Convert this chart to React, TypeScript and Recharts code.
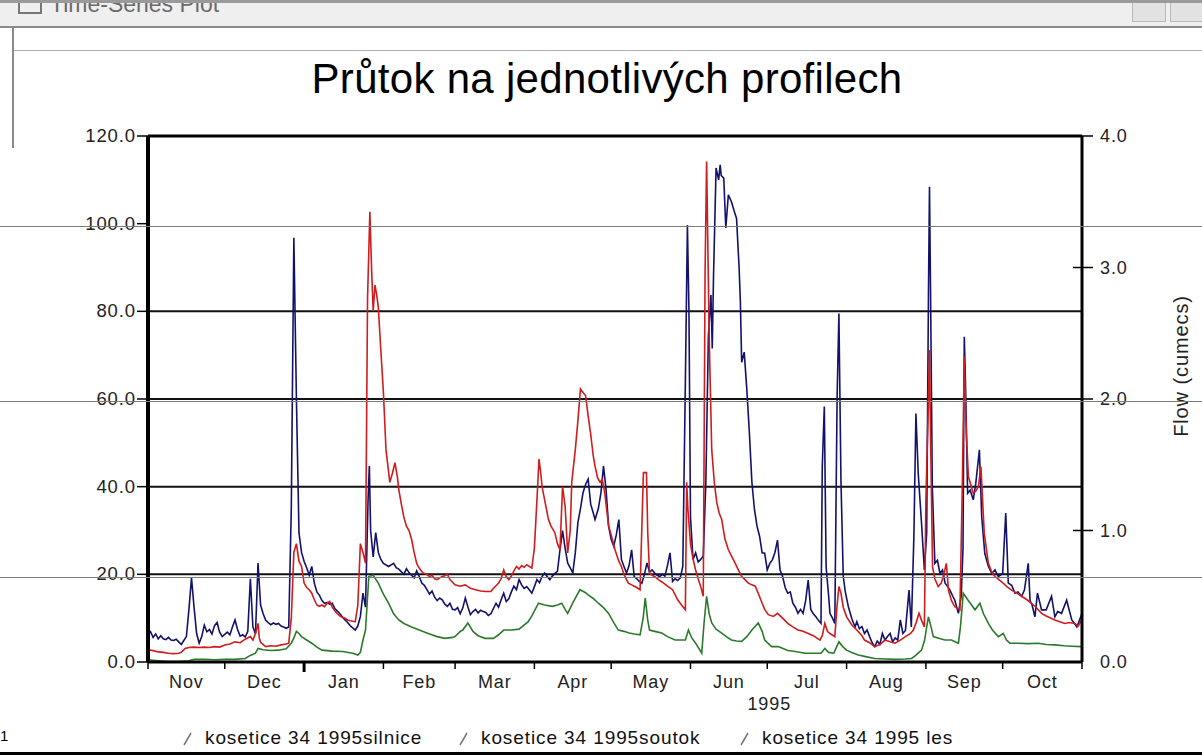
import React from "react";
import { LineChart, Line, XAxis, YAxis, ReferenceLine } from "recharts";

// days since 1 Nov 1994, flow
const silnice: [number, number][] = [
  [0, 6.2], [1, 6.9], [2, 5.6], [3, 6.4], [4, 5.3], [5, 6.0], [6, 5.3], [7, 5.1], [8, 5.6], [9, 5.0], [10, 4.9], [11, 5.2], [12, 4.6], [13, 4.0], [14, 4.9], [15, 5.8], [16, 12], [17, 19.2], [18, 12.5], [19, 6.5], [20, 4.3], [21, 5.8], [22, 8.4], [23, 6.9], [24, 7.4], [25, 6.4], [26, 8.3], [27, 9.0], [28, 6.8], [29, 5.8], [30, 6.3], [31, 6.8], [32, 6.2], [33, 8.0], [34, 9.6], [35, 7.4], [36, 5.9], [37, 6.2], [38, 5.7], [39, 7], [40, 19], [41, 8], [42, 6.4], [43, 22.6], [44, 13], [45, 11], [46, 9.5], [47, 9], [48, 8.5], [49, 8.9], [50, 8.6], [51, 8.8], [52, 8.2], [53, 8.0], [54, 7.7], [55, 8], [56, 35], [57, 96.8], [58, 60], [59, 29.5], [60, 25], [61, 23], [62, 21.5], [63, 19.8], [64, 21.8], [65, 18], [66, 16], [67, 15.2], [68, 14], [69, 13.4], [70, 13.6], [71, 13.2], [72, 13.4], [73, 12.2], [74, 11.6], [75, 11], [76, 10.2], [77, 9.6], [78, 9], [79, 8.3], [80, 7.8], [81, 7.3], [82, 8.2], [83, 10.4], [84, 15.7], [85, 12.5], [86, 37], [86.5, 44.7], [87, 30], [88, 24], [89, 29.5], [90, 25], [91, 23.4], [92, 22.5], [94, 21.8], [96, 22.5], [97, 21.5], [98, 21.2], [100, 20], [101, 21.3], [102, 20.4], [104, 19.2], [105, 20.8], [106, 19.5], [107, 18], [108, 17.5], [109, 16.5], [110, 15.5], [111, 16.2], [112, 14.8], [113, 14], [114, 14.6], [115, 14.2], [116, 13.2], [117, 12.7], [118, 13.4], [119, 12], [120, 11.9], [121, 12.4], [122, 11], [123, 12.3], [124, 14.6], [125, 12.6], [126, 10.8], [127, 11.5], [128, 12], [129, 11.2], [130, 11.8], [131, 11.5], [132, 11.3], [133, 10.6], [134, 11], [135, 12.2], [136, 13.4], [137, 12.5], [138, 14.2], [139, 15.7], [140, 13.8], [141, 14.4], [142, 16], [143, 17.3], [144, 16.5], [145, 18.8], [146, 17.6], [147, 16.8], [148, 17.2], [149, 16.5], [150, 15.7], [151, 17.2], [152, 18.8], [153, 18.1], [154, 19.5], [155, 20.3], [156, 19.5], [157, 18.8], [158, 19.6], [159, 20.2], [160, 20.7], [161, 25.6], [162, 30], [163, 26], [164, 22.6], [165, 21.5], [166, 20.3], [167, 25], [168, 31.8], [169, 35], [170, 38.6], [171, 40.5], [172, 41.7], [173, 36], [174, 34], [174.7, 32.5], [176, 35], [177, 38.6], [178, 44.7], [179, 39.4], [180, 31], [181, 28], [182, 26.4], [183, 29], [184, 32.5], [185, 23.4], [186, 21.8], [187, 20.3], [188, 22], [189, 25.6], [190, 19.5], [191, 19], [192, 18.4], [193, 18], [194, 20], [195, 22.6], [196, 20.5], [197, 21], [198, 20.3], [199, 19.8], [200, 19.5], [201, 20], [202, 19.6], [203, 22], [204, 24.9], [205, 18.4], [206, 19], [207, 18.6], [208, 19.2], [209, 21.8], [210, 64], [210.8, 99.7], [211.4, 80], [212, 33], [213, 23.4], [214, 24.9], [215, 22.8], [216, 23.4], [217, 24.2], [218, 41], [219, 74.5], [220, 83.7], [220.5, 71.5], [221, 88], [222, 112.7], [223, 110], [223.6, 113.4], [224, 111], [225, 110.4], [225.8, 99], [226.8, 106.6], [228, 105], [229, 103], [230, 101.2], [231, 90], [231.5, 82], [232, 68.4], [233, 70.7], [234, 62.3], [235, 52.4], [236, 41], [237, 34.8], [238, 31], [239, 28.7], [240, 24.9], [241, 24.8], [242, 21], [243, 22.5], [244, 23.3], [245, 25], [246, 27.8], [247, 21], [248, 19.5], [249, 17], [250, 15.7], [251, 16], [252, 13.4], [253, 12.5], [254, 11.1], [255, 12], [256, 11.1], [257, 14], [258, 18.7], [259, 12], [260, 11], [261, 10.3], [262, 9.5], [263, 8.8], [263.5, 44.6], [264.3, 58.3], [265, 21.7], [266, 15], [266.5, 11.1], [267.5, 10], [268.4, 8.8], [269.3, 60.5], [270, 79.5], [270.8, 41.5], [271.7, 19.5], [272.5, 16], [273.7, 12.6], [275, 10], [276.3, 8], [277, 9.2], [278, 7.6], [279, 8.1], [280, 6.5], [281, 7.3], [282, 5.8], [283, 4.4], [284, 3.5], [285, 4.8], [286, 4], [287, 6.5], [288, 5], [289, 5.8], [290, 6.5], [291, 4.6], [292, 5.5], [293, 5], [294, 9.6], [295, 6.5], [296, 7.2], [297.4, 16.4], [298.3, 8], [299.3, 28.6], [300.1, 56.7], [301, 43], [302.3, 31.6], [303.4, 21], [304.3, 29.4], [305, 84], [305.4, 108.4], [305.8, 85.6], [306.5, 40], [307.5, 22.5], [308.5, 23.2], [309.5, 20.2], [310.5, 21], [311.5, 18], [312.5, 17.2], [313.4, 16.4], [314.5, 15], [315.3, 14.1], [316.7, 11.1], [317.8, 15], [318.5, 26], [319, 74.2], [319.5, 62.8], [320.3, 38.5], [321.3, 39.2], [322.5, 37], [323.5, 40.8], [324.9, 48.4], [325.8, 33.2], [327, 24.8], [328.3, 22], [329.7, 20.2], [331, 21], [332.3, 19.5], [334, 20.2], [335.2, 34], [336.2, 18], [337.5, 17.5], [338.8, 15.7], [340, 16], [341.4, 15], [342.5, 16.4], [344, 22.5], [344.7, 14], [345.5, 13], [346.6, 10.3], [347.6, 15.7], [349.2, 11.9], [351, 11.9], [353.1, 15], [354.4, 10.3], [355.5, 11.5], [357, 11.1], [359, 14.1], [361, 9.6], [363, 8], [364, 9.5], [365, 11.1],
];

const soutok: [number, number][] = [
  [0, 2.8], [2, 2.6], [4, 2.3], [6, 2.2], [8, 2.0], [10, 1.9], [12, 2.0], [13, 2.2], [14.5, 3.1], [16, 3.3], [18, 3.4], [20, 3.3], [22, 3.4], [24, 3.3], [26, 3.5], [28, 3.4], [30, 3.9], [32, 4.1], [34, 4.6], [36, 4.4], [38, 5.2], [40, 5.8], [41, 5], [42, 6.5], [43, 8.8], [43.5, 5.5], [44, 4.5], [46, 3.5], [48, 3.7], [50, 3.6], [52, 3.9], [54, 4.1], [55, 4.3], [56, 10], [57, 25], [58, 27], [59, 23], [60, 21.8], [61, 18], [62, 17], [63, 16.5], [64, 15.7], [65, 14.2], [66, 13], [67, 12.7], [68, 13], [69, 12.6], [70, 13.4], [71, 13.8], [72, 12.5], [73, 11.7], [74, 11], [75, 10.5], [76, 10.2], [77, 10], [78, 9.6], [79, 9.4], [80, 9.3], [81, 9.2], [82, 13], [83, 27], [84, 25], [85, 22.6], [85.8, 83], [86.7, 102.7], [87.3, 91], [88, 80], [88.7, 86], [89.3, 84], [90, 81], [91, 71], [92, 61.5], [93, 48.5], [94.5, 41], [95.5, 43], [96.5, 45.5], [97.5, 42], [98, 39.4], [99, 36], [100, 33], [101, 31], [102, 30], [103, 28], [104, 25], [105, 22.5], [105.6, 21.8], [106.5, 21], [107.5, 20.3], [109, 20], [110, 19.5], [111, 19.8], [112, 19], [113, 18.8], [114, 19.2], [115, 19.5], [116, 19.7], [117, 20], [118, 18.8], [119, 18.2], [120, 17.6], [122, 17.3], [124, 17.6], [126, 16.8], [128, 16.5], [130, 16.2], [132, 16.1], [134, 16.1], [135, 16.8], [136, 17.4], [137, 18], [138, 19], [139, 21], [140, 19.5], [141, 18.8], [142, 19.6], [143, 20.8], [144, 21.8], [145, 21.2], [146, 22], [147, 21.6], [148, 22.2], [149, 21.8], [150, 21.4], [151, 26], [152, 37], [152.8, 46.3], [153.5, 43], [154, 40], [155, 37], [156, 34], [156.5, 32.5], [157.5, 31], [159, 29.5], [160, 27], [161, 25.6], [162, 40], [163, 35.6], [164, 24.9], [165, 30], [165.6, 41], [167, 48.5], [168, 55], [169, 62.3], [170, 61.5], [171, 60.8], [172, 56.2], [173, 52], [174, 47], [174.7, 44.7], [175.7, 42], [176.7, 41], [177.5, 41.7], [178.5, 38.6], [180, 31], [181, 29], [182.5, 25.6], [184, 23], [185, 21.8], [186, 20], [187.7, 18], [189, 17.6], [190, 17.3], [191, 17], [192.3, 16.5], [193.6, 43.2], [194.8, 43.2], [195.3, 29.5], [196, 20.3], [197, 19.8], [198, 19.5], [199.5, 18.8], [201, 18.2], [203, 17.3], [205, 16.5], [207, 14.2], [208.5, 13], [210, 11.9], [210.5, 41], [211, 34.8], [212, 27], [213, 23.5], [214, 21], [215, 19], [216, 17.2], [217, 15], [217.7, 89], [218.3, 114.2], [218.8, 94.3], [219.3, 74.5], [220.3, 48.5], [221.3, 41], [222.3, 36.3], [223.2, 34], [224.2, 32.5], [225.5, 28], [226.8, 25.6], [228, 24.2], [229.4, 22.6], [230.7, 21], [232, 19.5], [233.3, 18.8], [234.6, 18], [236, 17.6], [237.3, 17.3], [238.6, 15.5], [240, 13.4], [241, 12], [242.4, 10.8], [244.4, 10.4], [246, 11.1], [248, 10], [250, 8.8], [252, 8], [254, 7.3], [256, 7], [258, 6.5], [260, 6], [262.6, 5], [263.5, 6], [264.5, 8.8], [265.5, 7], [266.5, 6.5], [268.4, 5.8], [269.3, 13], [270, 17.2], [270.8, 15.7], [271.7, 12.5], [273, 10.3], [275, 8.5], [277, 7.3], [279, 6], [280, 5], [282, 4.4], [284, 3.5], [286, 4], [288, 5], [290, 4.6], [292, 4.3], [294, 5], [296, 5.8], [298, 6.5], [299.1, 7.3], [300.2, 9], [301.3, 11.1], [302.3, 9.5], [303.4, 8], [304, 37], [305, 59.8], [305.4, 71.2], [305.8, 52.2], [306.6, 21.7], [307.5, 19], [308.8, 17.2], [310, 18], [311, 20], [312, 22.5], [312.8, 16.4], [314, 14], [315.3, 12.6], [317.3, 11.9], [318.2, 39.2], [319, 69.7], [319.8, 52.2], [320.6, 42.3], [322.5, 38.5], [323.5, 39], [324.5, 40], [325.5, 44.6], [326.8, 29.4], [328.4, 22.5], [329.7, 20.5], [331, 19.5], [332.5, 18.8], [334.2, 18], [336, 17], [337.5, 16.4], [339.5, 15.7], [341.4, 15], [343.5, 14.2], [345.3, 13.4], [347, 12.5], [349.2, 11.1], [351, 10.5], [352.5, 10.1], [354.4, 9.6], [356.3, 9.2], [358.3, 8.8], [360, 9], [362.2, 8.8], [363.5, 8.2], [364.9, 9.6],
];

// les is in cumecs (right axis)
const les: [number, number][] = [
  [0, 0.017], [4, 0.01], [8, 0.003], [12, 0.003], [16, 0.01], [18, 0.02], [22, 0.02], [26, 0.017], [30, 0.02], [34, 0.02], [38, 0.027], [40, 0.05], [42, 0.067], [43, 0.103], [45, 0.093], [48, 0.087], [51, 0.09], [54, 0.1], [56, 0.143], [57, 0.183], [58, 0.233], [59, 0.217], [60, 0.193], [62, 0.167], [64, 0.143], [66, 0.113], [68, 0.09], [72, 0.083], [76, 0.08], [80, 0.067], [82, 0.053], [83, 0.073], [84, 0.167], [85, 0.243], [86.3, 0.65], [88, 0.66], [90, 0.6], [92, 0.517], [94, 0.447], [96, 0.367], [98, 0.32], [100, 0.293], [103, 0.267], [106, 0.243], [109.5, 0.217], [113, 0.193], [116, 0.18], [119, 0.187], [120, 0.193], [122, 0.233], [123, 0.243], [125, 0.297], [127, 0.233], [129, 0.2], [131.7, 0.18], [135, 0.18], [137, 0.207], [139, 0.243], [142, 0.243], [145, 0.25], [148.6, 0.307], [150, 0.35], [152.6, 0.447], [155, 0.433], [158, 0.423], [160, 0.433], [161.7, 0.447], [163, 0.4], [164, 0.37], [166, 0.45], [168.8, 0.55], [171, 0.527], [172, 0.51], [174, 0.483], [176, 0.447], [178, 0.413], [180, 0.37], [182, 0.3], [183.8, 0.243], [186, 0.233], [188, 0.22], [190, 0.213], [192.3, 0.207], [193.5, 0.333], [194.3, 0.487], [195.3, 0.317], [196, 0.243], [198, 0.233], [200.8, 0.22], [203, 0.193], [206, 0.167], [208, 0.167], [210, 0.167], [211.2, 0.243], [212.5, 0.183], [214, 0.143], [216.4, 0.067], [217.3, 0.297], [218.3, 0.5], [219.3, 0.367], [220.3, 0.297], [222, 0.25], [224.2, 0.22], [226, 0.193], [228, 0.167], [230, 0.16], [232, 0.157], [234, 0.193], [236, 0.243], [238.5, 0.297], [240, 0.233], [241, 0.167], [243.7, 0.117], [246.3, 0.117], [250, 0.087], [253, 0.08], [256.7, 0.067], [260, 0.067], [263, 0.067], [264.5, 0.103], [266, 0.073], [268, 0.067], [270, 0.153], [271.5, 0.117], [273, 0.09], [275, 0.073], [277.6, 0.053], [280, 0.043], [284, 0.027], [288, 0.023], [292, 0.02], [296, 0.023], [298.4, 0.027], [300, 0.05], [302.3, 0.09], [303.5, 0.167], [304.3, 0.267], [305, 0.343], [306, 0.267], [306.9, 0.193], [309, 0.18], [311.4, 0.167], [314, 0.167], [316.7, 0.143], [317.5, 0.267], [318.6, 0.523], [320.5, 0.47], [323.2, 0.397], [325.1, 0.447], [326.5, 0.367], [328.4, 0.293], [330, 0.243], [332.3, 0.193], [334.2, 0.217], [335.5, 0.167], [336.8, 0.143], [340, 0.143], [344, 0.14], [348, 0.143], [351, 0.133], [354.4, 0.13], [358, 0.123], [361, 0.12], [365, 0.117],
];

const monthStarts = [0, 30, 61, 92, 120, 151, 181, 212, 242, 273, 304, 334, 365];
const monthNames = ["Nov", "Dec", "Jan", "Feb", "Mar", "Apr", "May", "Jun", "Jul", "Aug", "Sep", "Oct"];
const leftTicks = [0, 20, 40, 60, 80, 100, 120];
const rightTicks = [0, 1, 2, 3, 4];
const gridValues = [20, 40, 60, 80];

const series = [
  { name: "kosetice 34 1995silnice", data: silnice, color: "#12126c", axis: "left" },
  { name: "kosetice 34 1995soutok", data: soutok, color: "#d01c1c", axis: "left" },
  { name: "kosetice 34 1995 les", data: les, color: "#2b7a2b", axis: "right" },
];

const W = 1202;
const H = 755;
const PLOT_L = 148;
const PLOT_R = 1082;
const PLOT_B = 662;
const PX_PER_DAY = (PLOT_R - PLOT_L) / 365;
const FONT = "'Liberation Sans', Arial, sans-serif";
const txt = { fontFamily: FONT, fontSize: 18, fill: "#222", letterSpacing: 0.9 };

const LeftTick = (props: any) => {
  const { y, payload } = props;
  return (
    <g>
      <line x1={PLOT_L - 11} x2={PLOT_L} y1={y} y2={y} stroke="#000" strokeWidth={1.5} />
      <text x={PLOT_L - 12} y={y + 6} textAnchor="end" style={{ ...txt, fontSize: 18.5 }}>
        {Number(payload.value).toFixed(1)}
      </text>
    </g>
  );
};

const RightTick = (props: any) => {
  const { y, payload } = props;
  const v = Number(payload.value);
  const inner = v === 1 || v === 3 ? 9 : 0;
  return (
    <g>
      {v > 0 && <line x1={PLOT_R - inner} x2={PLOT_R + 11} y1={y} y2={y} stroke="#000" strokeWidth={1.5} />}
      <text x={PLOT_R + 18} y={y + 6} textAnchor="start" style={txt}>
        {v.toFixed(1)}
      </text>
    </g>
  );
};

const MonthTick = (props: any) => {
  const { x, payload } = props;
  const i = monthStarts.indexOf(payload.value);
  const isYear = payload.value === 61;
  const label = i >= 0 && i < monthNames.length ? monthNames[i] : null;
  const mid = i >= 0 && i < monthNames.length ? ((monthStarts[i + 1] - monthStarts[i]) / 2) * PX_PER_DAY : 0;
  return (
    <g>
      <line x1={x} x2={x} y1={PLOT_B} y2={PLOT_B + (isYear ? 10 : 7)} stroke="#000" strokeWidth={isYear ? 3 : 1.5} />
      {label && (
        <text x={x + mid} y={PLOT_B + 26} textAnchor="middle" style={txt}>
          {label}
        </text>
      )}
      {payload.value === 242 && (
        <text x={x + 2} y={PLOT_B + 48} textAnchor="middle" style={txt}>
          1995
        </text>
      )}
    </g>
  );
};

const FlowLabel = () => (
  <text x={1188} y={366} transform="rotate(-90 1188 366)" textAnchor="middle" style={{ ...txt, fontSize: 20 }}>
    Flow (cumecs)
  </text>
);

const hLine = (top: number, color: string, left = 0) => (
  <div style={{ position: "absolute", left, right: 0, top, height: 1, background: color, pointerEvents: "none" }} />
);

export default function App() {
  return (
    <div style={{ position: "absolute", left: 0, top: 0, width: W, height: H, background: "#fff", overflow: "hidden", fontFamily: FONT }}>
      {/* window chrome */}
      <div style={{ position: "absolute", left: 0, top: 0, width: W, height: 28, background: "#efefef", borderTop: "3px solid #9a9a9a", borderBottom: "2px solid #8a8a8a", boxSizing: "border-box", overflow: "hidden" }}>
        <div style={{ position: "absolute", left: 18, top: -8, width: 20, height: 15, border: "2px solid #777" }} />
        <div style={{ position: "absolute", left: 50, top: -12, fontSize: 23, color: "#6a6a6a" }}>Time-Series Plot</div>
        <div style={{ position: "absolute", left: 1132, top: -3, width: 32, height: 20, background: "#e2e2e2", border: "1px solid #b8b8b8" }} />
        <div style={{ position: "absolute", left: 1170, top: -3, width: 34, height: 20, background: "#e2e2e2", border: "1px solid #b8b8b8" }} />
      </div>
      <div style={{ position: "absolute", left: 12, top: 28, width: 2, height: 120, background: "#8a8a8a" }} />
      {hLine(50, "#b0b0b0", 14)}

      <div style={{ position: "absolute", left: 257, top: 55, width: 700, textAlign: "center", fontSize: 42, color: "#000", letterSpacing: 0.3 }}>
        Průtok na jednotlivých profilech
      </div>

      <div style={{ position: "absolute", left: 0, top: 0 }}>
        <LineChart width={W} height={H} margin={{ top: 136, right: 60, bottom: 53, left: 88 }}>
          <XAxis
            xAxisId="d"
            dataKey="day"
            type="number"
            domain={[0, 365]}
            ticks={monthStarts}
            interval={0}
            allowDataOverflow
            height={40}
            axisLine={{ stroke: "#000", strokeWidth: 3 }}
            tickLine={false}
            tick={<MonthTick />}
          />
          <YAxis
            yAxisId="left"
            domain={[0, 120]}
            ticks={leftTicks}
            interval={0}
            allowDataOverflow
            width={60}
            axisLine={{ stroke: "#000", strokeWidth: 4 }}
            tickLine={false}
            tick={<LeftTick />}
          />
          <YAxis
            yAxisId="right"
            orientation="right"
            domain={[0, 4]}
            ticks={rightTicks}
            interval={0}
            allowDataOverflow
            width={60}
            axisLine={{ stroke: "#000", strokeWidth: 3 }}
            tickLine={false}
            tick={<RightTick />}
            label={<FlowLabel />}
          />
          {gridValues.map((v) => (
            <ReferenceLine key={v} xAxisId="d" yAxisId="left" y={v} stroke="#111" strokeWidth={2} />
          ))}
          <ReferenceLine xAxisId="d" yAxisId="left" y={120} stroke="#000" strokeWidth={3} />
          {[series[2], series[0], series[1]].map((s) => (
            <Line
              key={s.name}
              xAxisId="d"
              yAxisId={s.axis}
              data={s.data.map(([day, v]) => ({ day, v }))}
              dataKey="v"
              type="linear"
              stroke={s.color}
              strokeWidth={1.6}
              dot={false}
              isAnimationActive={false}
            />
          ))}
        </LineChart>
      </div>

      {hLine(226, "#7c7c7c")}
      {hLine(401, "#7c7c7c")}
      {hLine(577, "#7c7c7c")}

      {/* legend */}
      {series.map((s, i) => (
        <div key={s.name} style={{ position: "absolute", left: [180, 456, 737][i], top: 727, display: "flex", alignItems: "center", fontSize: 19, color: "#111", letterSpacing: 0.9, whiteSpace: "nowrap" }}>
          <svg width={22} height={20}>
            <line x1={4} y1={17} x2={11} y2={5} stroke="#777" strokeWidth={1.5} />
          </svg>
          <span style={{ marginLeft: 3 }}>{s.name}</span>
        </div>
      ))}

      <div style={{ position: "absolute", left: 0, top: 727, fontSize: 15, color: "#000" }}>1</div>
      <div style={{ position: "absolute", left: 0, top: 752, width: W, height: 3, background: "#000" }} />
    </div>
  );
}
